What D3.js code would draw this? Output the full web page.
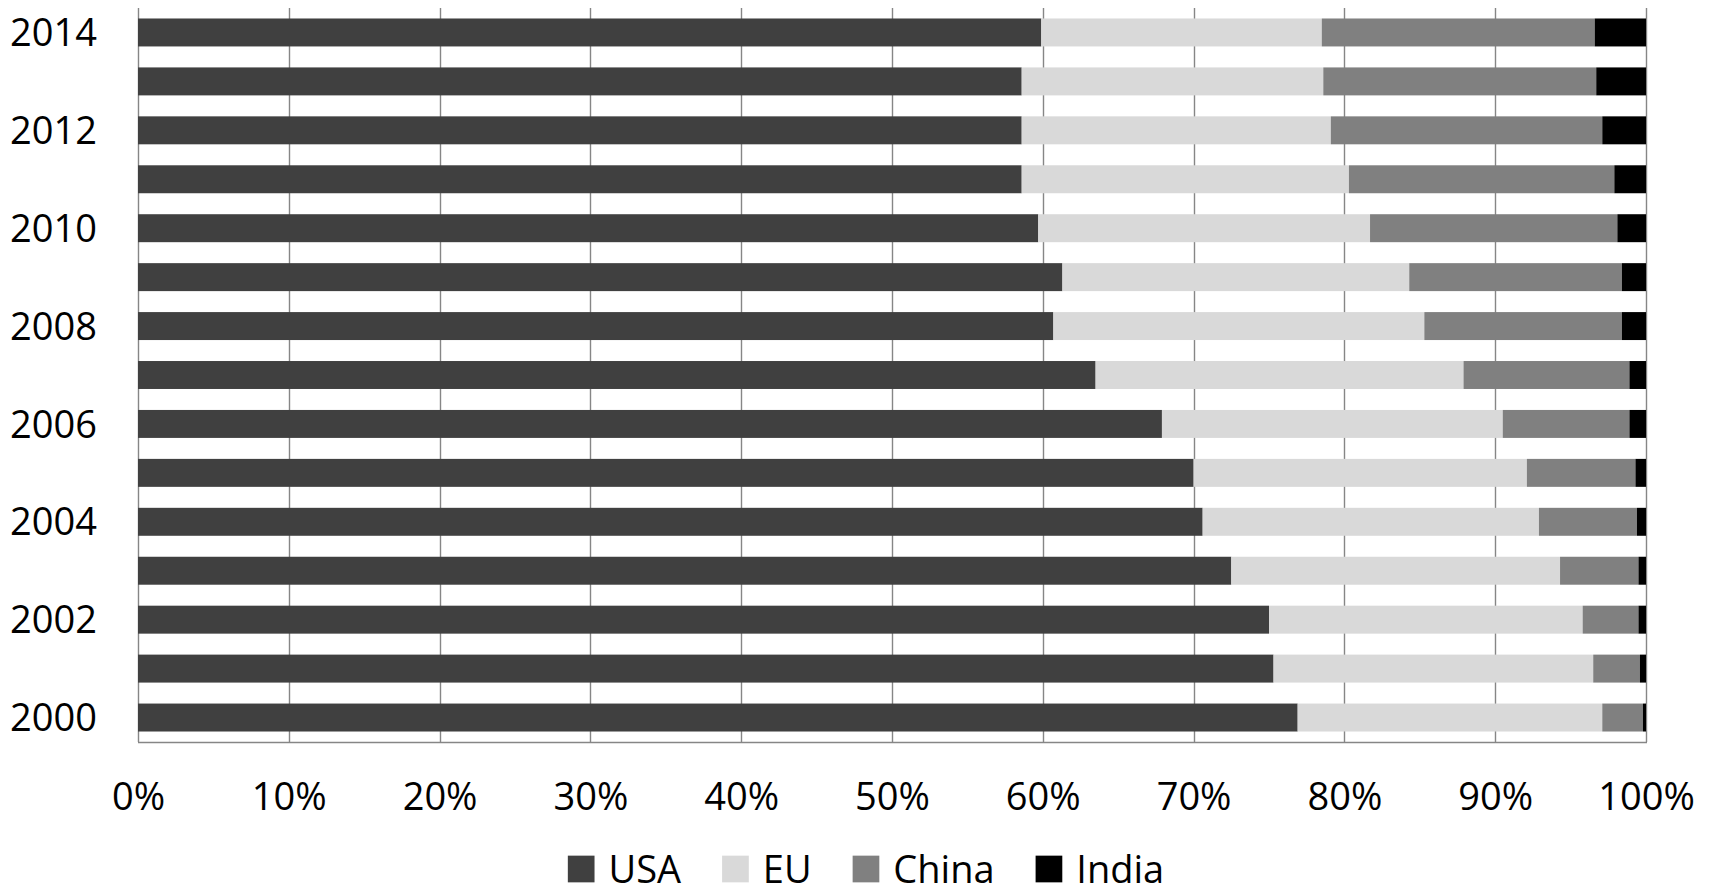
<!DOCTYPE html>
<html>
<head>
<meta charset="utf-8">
<script src="https://cdn.jsdelivr.net/npm/d3@7"></script>
<style>
  html, body { margin: 0; padding: 0; background: #fff; }
  svg { display: block; }
  text { font-family: "Open Sans", "Noto Sans", sans-serif; fill: #000; }
</style>
</head>
<body>
<svg id="chart" width="1711" height="894"></svg>
<script>
// ---- Data (shares in %) ----
const years = [2014, 2013, 2012, 2011, 2010, 2009, 2008, 2007, 2006, 2005, 2004, 2003, 2002, 2001, 2000];
const usa   = [59.9, 58.6, 58.6, 58.6, 59.7, 61.3, 60.7, 63.5, 67.9, 70.0, 70.6, 72.5, 75.0, 75.3, 76.9];
const eu    = [18.6, 20.0, 20.5, 21.7, 22.0, 23.0, 24.6, 24.4, 22.6, 22.1, 22.3, 21.8, 20.8, 21.2, 20.2];
const china = [18.1, 18.1, 18.0, 17.6, 16.4, 14.1, 13.1, 11.0,  8.4,  7.2,  6.5,  5.2,  3.7,  3.1,  2.7];
const india = [ 3.4,  3.3,  2.9,  2.1,  1.9,  1.6,  1.6,  1.1,  1.1,  0.7,  0.6,  0.5,  0.5,  0.4,  0.2];
const seriesNames = ["USA", "EU", "China", "India"];
const seriesColors = ["#404040", "#d9d9d9", "#808080", "#000000"];
const xTickValues = [0, 0.1, 0.2, 0.3, 0.4, 0.5, 0.6, 0.7, 0.8, 0.9, 1.0];
const yLabelYears = [2014, 2012, 2010, 2008, 2006, 2004, 2002, 2000];

// ---- Build table ----
const seriesArrays = [usa, eu, china, india];
const table = years.map((y, i) => {
  const row = { year: y };
  seriesNames.forEach((n, k) => row[n] = seriesArrays[k][i]);
  return row;
});

const svg = d3.select("#chart");
const plot = { left: 138, right: 1646, top: 8, bottom: 742 };

const x = d3.scaleLinear().domain([0, 1]).range([plot.left, plot.right]);
const gap = 0.75 / 1.75;
const y = d3.scaleBand().domain(years).range([plot.top, plot.bottom])
  .paddingInner(gap).paddingOuter(gap / 2);

const stacked = d3.stack().keys(seriesNames).offset(d3.stackOffsetExpand)(table);

// gridlines
svg.append("g").selectAll("line").data(xTickValues).join("line")
  .attr("x1", d => Math.round(x(d)) + 0.5).attr("x2", d => Math.round(x(d)) + 0.5)
  .attr("y1", plot.top).attr("y2", plot.bottom)
  .attr("stroke", "#868686").attr("stroke-width", 1.4);

// bars
svg.append("g").selectAll("g").data(stacked).join("g")
  .attr("fill", (d, i) => seriesColors[i])
  .selectAll("rect").data(d => d).join("rect")
  .attr("x", d => x(d[0]))
  .attr("width", d => x(d[1]) - x(d[0]))
  .attr("y", d => y(d.data.year))
  .attr("height", y.bandwidth());

// bottom axis line
svg.append("line")
  .attr("x1", plot.left).attr("x2", plot.right + 1)
  .attr("y1", plot.bottom + 0.5).attr("y2", plot.bottom + 0.5)
  .attr("stroke", "#868686").attr("stroke-width", 1.4);

// x tick labels
const xAxis = d3.axisBottom(x).tickValues(xTickValues).tickFormat(d3.format(".0%")).tickSize(0).tickPadding(0);
const gx = svg.append("g").attr("transform", `translate(0,${plot.bottom})`).call(xAxis);
gx.select(".domain").remove();
gx.selectAll("text").attr("y", 68).attr("dy", null)
  .style("font-size", "38px").style("font-family", '"Open Sans", sans-serif').attr("fill", "#000");

// y tick labels
const yAxis = d3.axisLeft(y).tickValues(yLabelYears).tickFormat(d3.format("d")).tickSize(0).tickPadding(0);
const gy = svg.append("g").attr("transform", `translate(${97},0)`).call(yAxis);
gy.select(".domain").remove();
gy.selectAll("text").attr("x", 0).attr("dy", "0.357em")
  .style("font-size", "38px").style("font-family", '"Open Sans", sans-serif').attr("fill", "#000");

// legend
const legend = svg.append("g");
let lx = 0;
const sq = 26.7;
seriesNames.forEach((n, i) => {
  const g = legend.append("g").attr("transform", `translate(${lx},0)`);
  g.append("rect").attr("x", 0).attr("y", -sq / 2).attr("width", sq).attr("height", sq)
    .attr("fill", seriesColors[i]);
  const t = g.append("text").attr("x", sq + 14).attr("y", 0).attr("dy", "0.357em")
    .style("font-size", "38px").text(n);
  lx += sq + 14 + t.node().getComputedTextLength() + 41;
});
const legendWidth = lx - 41;
legend.attr("transform", `translate(${866 - legendWidth / 2},869)`);
</script>
</body>
</html>
